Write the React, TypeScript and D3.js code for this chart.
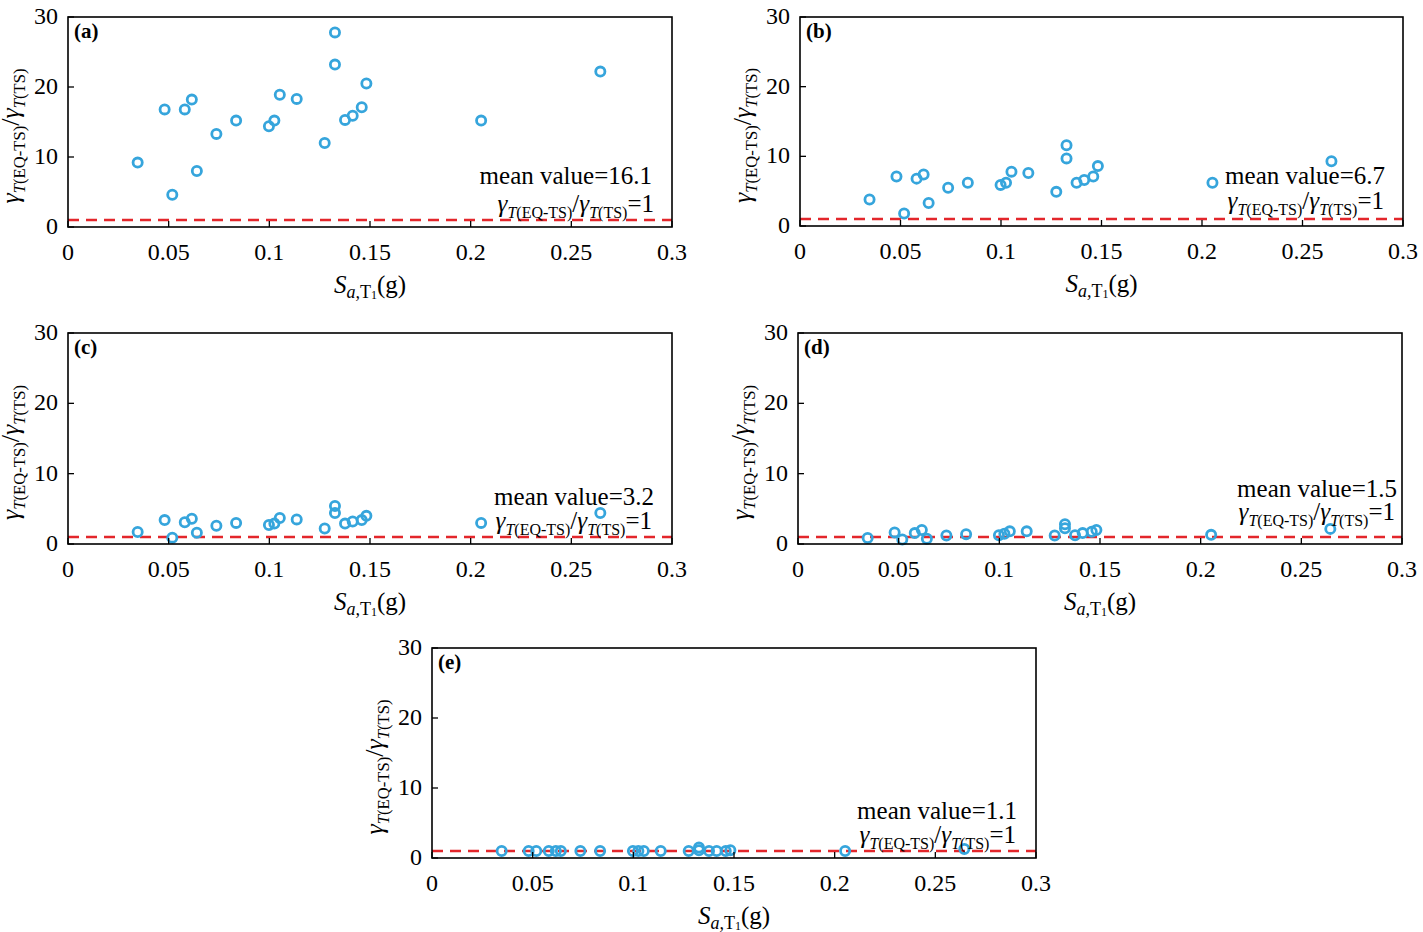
import React from "react";
import * as d3 from "d3";

// Spectral acceleration Sa,T1 (g) of each record (shared by all panels)
const saT1 = [0.0346, 0.048, 0.0518, 0.058, 0.0615, 0.064, 0.0737, 0.0835, 0.0998, 0.1025, 0.1052,
  0.1136, 0.1275, 0.1326, 0.1326, 0.1376, 0.1414, 0.1459, 0.1482, 0.2052, 0.2644];

// Ratio gamma_T(EQ-TS)/gamma_T(TS) for each panel
const ratioA = [9.2, 16.8, 4.6, 16.8, 18.2, 8.0, 13.3, 15.2, 14.4, 15.2, 18.9, 18.3, 12.0, 27.8, 23.2,
  15.3, 15.9, 17.1, 20.5, 15.2, 22.2];
const ratioB = [3.8, 7.1, 1.8, 6.8, 7.4, 3.3, 5.5, 6.2, 5.9, 6.2, 7.8, 7.6, 4.9, 11.6, 9.7,
  6.2, 6.6, 7.1, 8.6, 6.2, 9.3];
const ratioC = [1.7, 3.4, 0.9, 3.1, 3.6, 1.6, 2.6, 3.0, 2.7, 2.9, 3.7, 3.5, 2.2, 5.4, 4.4,
  2.9, 3.2, 3.4, 4.0, 3.0, 4.4];
const ratioD = [0.85, 1.65, 0.65, 1.55, 2.0, 0.75, 1.2, 1.4, 1.25, 1.45, 1.8, 1.8, 1.2, 2.8, 2.25,
  1.25, 1.55, 1.75, 2.0, 1.3, 2.15];
const ratioE = [1.0, 1.0, 1.0, 1.0, 1.0, 1.0, 1.0, 1.0, 1.0, 1.0, 1.0, 1.0, 1.0, 1.5, 1.1,
  1.0, 1.0, 1.0, 1.1, 1.0, 1.3];

const panelNames = ["(a)", "(b)", "(c)", "(d)", "(e)"];
const meanValues = ["16.1", "6.7", "3.2", "1.5", "1.1"];
const xTicks = [0, 0.05, 0.1, 0.15, 0.2, 0.25, 0.3];
const xTickLabels = ["0", "0.05", "0.1", "0.15", "0.2", "0.25", "0.3"];
const yTicks = [0, 10, 20, 30];
const refRatio = 1;

const series = [ratioA, ratioB, ratioC, ratioD, ratioE];

// layout: plot box and annotation offsets
const layout = [
  { left: 68, right: 672, top: 17, bottom: 227, mR: 20, mB: 43, gR: 18, gB: 15 },
  { left: 800, right: 1403, top: 17, bottom: 226, mR: 18, mB: 42, gR: 19, gB: 17 },
  { left: 68, right: 672, top: 333, bottom: 544, mR: 18, mB: 39, gR: 20, gB: 15 },
  { left: 798, right: 1402, top: 333, bottom: 544, mR: 5, mB: 47, gR: 7, gB: 24 },
  { left: 432, right: 1036, top: 648, bottom: 858, mR: 19, mB: 39, gR: 20, gB: 15 },
];

const FONT = "'Liberation Serif', 'Times New Roman', serif";
const BLUE = "#36a5dc";
const RED = "#e3262b";

function GammaRatio({ x, y, size, anchor, extra, transform }: any) {
  const sub = size * 0.64;
  const dy = size * 0.24;
  return (
    <text x={x} y={y} textAnchor={anchor} transform={transform} fontFamily={FONT} fontSize={size}>
      <tspan fontStyle="italic">γ</tspan>
      <tspan fontStyle="italic" fontSize={sub} dy={dy}>T</tspan>
      <tspan fontSize={sub}>(EQ-TS)</tspan>
      <tspan dy={-dy}>/</tspan>
      <tspan fontStyle="italic">γ</tspan>
      <tspan fontStyle="italic" fontSize={sub} dy={dy}>T</tspan>
      <tspan fontSize={sub}>(TS)</tspan>
      {extra ? <tspan dy={-dy}>{extra}</tspan> : null}
    </text>
  );
}

function Panel({ idx }: { idx: number }) {
  const L = layout[idx];
  const x = d3.scaleLinear().domain([0, 0.3]).range([L.left, L.right]);
  const y = d3.scaleLinear().domain([0, 30]).range([L.bottom, L.top]);
  const data = series[idx];
  const cy = (L.top + L.bottom) / 2;
  const cx = (L.left + L.right) / 2;
  const tickLen = 6;
  return (
    <g>
      {/* reference line */}
      <line x1={x(0)} x2={x(0.3)} y1={y(refRatio)} y2={y(refRatio)} stroke={RED} strokeWidth={2.6}
        strokeDasharray="11 7" />
      {/* points */}
      {data.map((v, i) => (
        <circle key={i} cx={x(saT1[i])} cy={y(v)} r={4.6} fill="none" stroke={BLUE} strokeWidth={2.8} />
      ))}
      {/* frame */}
      <rect x={L.left} y={L.top} width={L.right - L.left} height={L.bottom - L.top} fill="none"
        stroke="#000" strokeWidth={1.6} />
      {xTicks.map((t, i) => (
        <g key={"x" + i}>
          <line x1={x(t)} x2={x(t)} y1={L.bottom} y2={L.bottom - tickLen} stroke="#000" strokeWidth={1.3} />
          <text x={x(t)} y={L.bottom + 33} textAnchor="middle" fontFamily={FONT} fontSize={24}>{xTickLabels[i]}</text>
        </g>
      ))}
      {yTicks.map((t, i) => (
        <g key={"y" + i}>
          <line x1={L.left} x2={L.left + tickLen} y1={y(t)} y2={y(t)} stroke="#000" strokeWidth={1.3} />
          <text x={L.left - 10} y={y(t) + 7} textAnchor="end" fontFamily={FONT} fontSize={24}>{t}</text>
        </g>
      ))}
      <text x={L.left + 6} y={L.top + 21} fontFamily={FONT} fontSize={21} fontWeight="bold">{panelNames[idx]}</text>
      <text x={L.right - L.mR} y={L.bottom - L.mB} textAnchor="end" fontFamily={FONT} fontSize={25}>
        mean value={meanValues[idx]}
      </text>
      <GammaRatio x={L.right - L.gR} y={L.bottom - L.gB} size={25} anchor="end" extra="=1" />
      {/* x axis title */}
      <text x={cx} y={L.bottom + 66} textAnchor="middle" fontFamily={FONT} fontSize={25}>
        <tspan fontStyle="italic">S</tspan>
        <tspan fontStyle="italic" fontSize={18} dy={5}>a,</tspan>
        <tspan fontSize={18}>T</tspan>
        <tspan fontSize={12} dy={1}>1</tspan>
        <tspan dy={-6}>(g)</tspan>
      </text>
      {/* y axis title */}
      <GammaRatio x={0} y={0} size={26} anchor="middle"
        transform={`translate(${L.left - 49},${cy + 14}) rotate(-90)`} />
    </g>
  );
}

export default function App() {
  return (
    <svg width={1423} height={932} style={{ position: "absolute", left: 0, top: 0, background: "#fff" }}>
      <rect x={0} y={0} width={1423} height={932} fill="#fff" />
      {layout.map((_, i) => <Panel key={i} idx={i} />)}
    </svg>
  );
}
